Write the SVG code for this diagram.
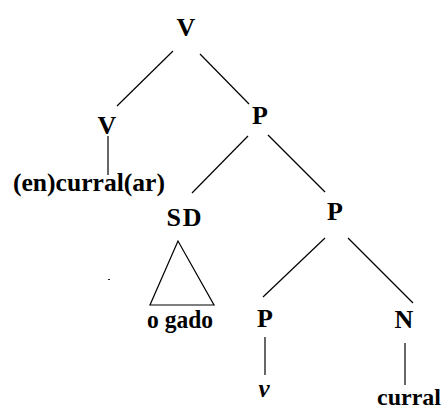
<svg xmlns="http://www.w3.org/2000/svg" width="448" height="412" viewBox="0 0 448 412">
  <style>
    text { font-family: "Liberation Serif", "Times New Roman", serif; font-weight: bold; font-size: 26px; fill: #000; text-anchor: middle; }
    .leaf { font-size: 25px; }
    .it { font-style: italic; }
    .edge { stroke: #000; stroke-width: 1.2; fill: none; }
  </style>
  <rect width="448" height="412" fill="#fff"/>

  <!-- branches of the tree -->
  <g id="connectors">
    <line class="edge" x1="173" y1="51" x2="117" y2="106"/>
    <line class="edge" x1="200" y1="54" x2="249" y2="104"/>
    <line class="edge" x1="108" y1="136" x2="108" y2="175"/>
    <line class="edge" x1="248" y1="136" x2="192" y2="193"/>
    <line class="edge" x1="268" y1="135" x2="325" y2="192"/>
    <line class="edge" x1="325" y1="238" x2="263" y2="297"/>
    <line class="edge" x1="348" y1="238" x2="413" y2="303"/>
    <line class="edge" x1="265" y1="337" x2="265" y2="375"/>
    <line class="edge" x1="405" y1="343" x2="405" y2="385"/>
    <polygon class="edge" points="178,241 150,305 214,305"/>
  </g>

  <g id="v-root"><text x="186" y="36">V</text></g>
  <g id="v-head"><text x="107" y="134">V</text></g>
  <g id="v-root-word"><text class="leaf" x="89" y="191" textLength="152" lengthAdjust="spacingAndGlyphs">(en)curral(ar)</text></g>
  <g id="p-upper"><text x="260" y="124">P</text></g>
  <g id="sd"><text x="185" y="226" letter-spacing="2">SD</text></g>
  <g id="sd-content"><text class="leaf" x="180" y="328" textLength="66" lengthAdjust="spacingAndGlyphs">o gado</text></g>
  <g id="p-middle"><text x="335" y="220">P</text></g>
  <g id="p-lower"><text x="265" y="327">P</text></g>
  <g id="p-lower-leaf"><text class="leaf it" x="264" y="397">v</text></g>
  <g id="n"><text x="404" y="328">N</text></g>
  <g id="n-leaf"><text x="409" y="405" style="font-size:24px">curral</text></g>

  <!-- small stray mark left of the triangle -->
  <rect x="108" y="279" width="2" height="1" fill="#222"/>
</svg>
